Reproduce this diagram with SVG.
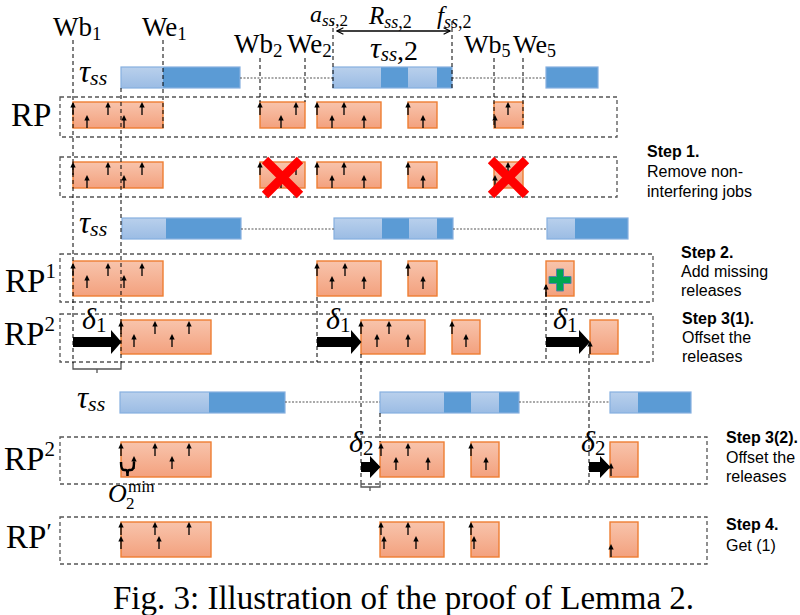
<svg xmlns="http://www.w3.org/2000/svg" width="800" height="615" viewBox="0 0 800 615">
<style>
.frame{fill:none;stroke:#555;stroke-width:1.3;stroke-dasharray:4 3}
.vd{fill:none;stroke:#000;stroke-width:1;stroke-dasharray:4 3}
.dot{stroke:#555;stroke-width:1.2;stroke-dasharray:2 1.5}
.job{fill:url(#og);stroke:#EE7E33;stroke-width:1.4}
.lt{fill:url(#bg)}
.dk{fill:#5B9BD5}
.bo{fill:none;stroke:#86B0E0;stroke-width:1.2}
.rm{font-family:"Liberation Serif","Times New Roman",serif;fill:#000}
.it{font-style:italic}
.step{font-family:"Liberation Sans",Arial,sans-serif;font-size:16px;fill:#000}
.b{font-weight:bold}
.x{stroke:#FF0000;stroke-width:9;stroke-linecap:butt}
.big{fill:#000}
.brk{fill:none;stroke:#555;stroke-width:1.3}
</style>
<defs>
<linearGradient id="og" x1="0" y1="0" x2="0" y2="1"><stop offset="0" stop-color="#F8C4AC"/><stop offset="1" stop-color="#F3A17E"/></linearGradient>
<linearGradient id="bg" x1="0" y1="0" x2="0" y2="1"><stop offset="0" stop-color="#B9D0EC"/><stop offset="1" stop-color="#9BBCE4"/></linearGradient>
<g id="ua"><path d="M0,0V-8.5" stroke="#000" stroke-width="1.3"/><path d="M-2.7,-7.5L0,-13L2.7,-7.5Z" fill="#000"/></g>
<marker id="oa" viewBox="0 0 10 10" refX="9" refY="5" markerWidth="8" markerHeight="8" orient="auto-start-reverse" markerUnits="userSpaceOnUse"><path d="M1,1L9,5L1,9" fill="none" stroke="#000" stroke-width="1.5"/></marker>
</defs>

<!-- frames -->
<g id="frames">
<rect class="frame" x="60" y="97" width="557" height="40"/>
<rect class="frame" x="60" y="157" width="557" height="40"/>
<rect class="frame" x="60" y="254" width="593" height="48"/>
<rect class="frame" x="60" y="314" width="593" height="48"/>
<rect class="frame" x="60" y="437" width="647" height="47"/>
<rect class="frame" x="60" y="517" width="647" height="47"/>
</g>

<!-- tau_ss bars -->
<g id="bars1">
<rect class="lt" x="121" y="67" width="42" height="21"/><rect class="dk" x="163" y="67" width="77" height="21"/><rect class="bo" x="121" y="67" width="119" height="21"/>
<rect class="lt" x="333" y="67" width="48" height="21"/><rect class="dk" x="381" y="67" width="27" height="21"/><rect class="lt" x="408" y="67" width="29" height="21"/><rect class="dk" x="437" y="67" width="15" height="21"/><rect class="bo" x="333" y="67" width="119" height="21"/>
<rect class="dk" x="546" y="67" width="52" height="21"/><rect class="bo" x="546" y="67" width="52" height="21"/>
<line class="dot" x1="240" y1="78" x2="333" y2="78"/><line class="dot" x1="452" y1="78" x2="546" y2="78"/>
</g>
<g id="bars3">
<rect class="lt" x="122" y="218" width="44" height="21"/><rect class="dk" x="166" y="218" width="75" height="21"/><rect class="bo" x="122" y="218" width="119" height="21"/>
<rect class="lt" x="334" y="218" width="48" height="21"/><rect class="dk" x="382" y="218" width="27" height="21"/><rect class="lt" x="409" y="218" width="28" height="21"/><rect class="dk" x="437" y="218" width="16" height="21"/><rect class="bo" x="334" y="218" width="119" height="21"/>
<rect class="lt" x="547" y="218" width="28" height="21"/><rect class="dk" x="575" y="218" width="53" height="21"/><rect class="bo" x="547" y="218" width="81" height="21"/>
<line class="dot" x1="241" y1="229" x2="334" y2="229"/><line class="dot" x1="453" y1="229" x2="547" y2="229"/>
</g>
<g id="bars6">
<rect class="lt" x="120" y="392" width="89" height="21"/><rect class="dk" x="209" y="392" width="76" height="21"/><rect class="bo" x="120" y="392" width="165" height="21"/>
<rect class="lt" x="380" y="392" width="64" height="21"/><rect class="dk" x="444" y="392" width="27" height="21"/><rect class="lt" x="471" y="392" width="28" height="21"/><rect class="dk" x="499" y="392" width="20" height="21"/><rect class="bo" x="380" y="392" width="139" height="21"/>
<rect class="lt" x="610" y="392" width="28" height="21"/><rect class="dk" x="638" y="392" width="53" height="21"/><rect class="bo" x="610" y="392" width="81" height="21"/>
<line class="dot" x1="285" y1="402" x2="380" y2="402"/><line class="dot" x1="519" y1="402" x2="610" y2="402"/>
</g>

<!-- row 1 jobs -->
<g id="row1">
<rect class="job" x="73" y="102" width="90" height="26"/><rect class="job" x="260" y="102" width="45" height="26"/><rect class="job" x="317" y="102" width="64" height="26"/><rect class="job" x="408" y="102" width="29" height="26"/><rect class="job" x="494" y="102" width="29" height="26"/>
<use href="#ua" x="73" y="115"/><use href="#ua" x="87" y="128"/><use href="#ua" x="108" y="115"/><use href="#ua" x="124" y="128"/><use href="#ua" x="142" y="115"/>
<use href="#ua" x="260" y="115"/><use href="#ua" x="281" y="128"/><use href="#ua" x="296" y="115"/>
<use href="#ua" x="317" y="115"/><use href="#ua" x="332" y="128"/><use href="#ua" x="344" y="115"/><use href="#ua" x="364" y="128"/>
<use href="#ua" x="408" y="115"/><use href="#ua" x="423" y="128"/>
<use href="#ua" x="495" y="128"/><use href="#ua" x="508" y="115"/>
</g>
<!-- row 2 jobs -->
<g id="row2">
<rect class="job" x="73" y="162" width="90" height="26"/><rect class="job" x="260" y="162" width="45" height="26"/><rect class="job" x="317" y="162" width="64" height="26"/><rect class="job" x="408" y="162" width="29" height="26"/><rect class="job" x="494" y="162" width="29" height="26"/>
<use href="#ua" x="73" y="175"/><use href="#ua" x="87" y="188"/><use href="#ua" x="108" y="175"/><use href="#ua" x="124" y="188"/><use href="#ua" x="142" y="175"/>
<use href="#ua" x="260" y="175"/><use href="#ua" x="281" y="188"/><use href="#ua" x="296" y="175"/>
<use href="#ua" x="317" y="175"/><use href="#ua" x="332" y="188"/><use href="#ua" x="344" y="175"/><use href="#ua" x="364" y="188"/>
<use href="#ua" x="408" y="175"/><use href="#ua" x="423" y="188"/>
<use href="#ua" x="495" y="188"/><use href="#ua" x="508" y="175"/>
<path class="x" d="M265,160L300,195M300,160L265,195"/>
<path class="x" d="M491,160L526,195M526,160L491,195"/>
</g>
<!-- row 4 jobs -->
<g id="row4">
<rect class="job" x="73" y="261" width="90" height="35"/><rect class="job" x="317" y="261" width="64" height="35"/><rect class="job" x="408" y="261" width="29" height="35"/><rect class="job" x="546" y="261" width="28" height="35"/>
<use href="#ua" x="73" y="276"/><use href="#ua" x="87" y="288"/><use href="#ua" x="108" y="276"/><use href="#ua" x="124" y="288"/><use href="#ua" x="142" y="276"/>
<use href="#ua" x="317" y="276"/><use href="#ua" x="332" y="289"/><use href="#ua" x="345" y="276"/><use href="#ua" x="364" y="289"/>
<use href="#ua" x="408" y="276"/><use href="#ua" x="423" y="289"/>
<use href="#ua" x="546" y="297"/>
<path d="M556.5,269H563.5V276.5H571V283.5H563.5V291H556.5V283.5H549V276.5H556.5Z" fill="#00A651" stroke="#5A7FA8" stroke-width="1"/>
</g>
<!-- row 5 jobs -->
<g id="row5">
<rect class="job" x="121" y="320" width="90" height="34"/><rect class="job" x="361" y="320" width="64" height="34"/><rect class="job" x="452" y="320" width="28" height="34"/><rect class="job" x="590" y="320" width="28" height="34"/>
<use href="#ua" x="121" y="334"/><use href="#ua" x="134" y="347"/><use href="#ua" x="155" y="334"/><use href="#ua" x="172" y="347"/><use href="#ua" x="189" y="334"/>
<use href="#ua" x="361" y="334"/><use href="#ua" x="377" y="347"/><use href="#ua" x="389" y="334"/><use href="#ua" x="408" y="347"/>
<use href="#ua" x="452" y="334"/><use href="#ua" x="466" y="347"/>
<use href="#ua" x="590" y="354"/>
</g>
<!-- row 7 jobs -->
<g id="row7">
<rect class="job" x="121" y="442" width="90" height="35"/><rect class="job" x="380" y="442" width="64" height="35"/><rect class="job" x="471" y="442" width="28" height="35"/><rect class="job" x="610" y="442" width="28" height="35"/>
<use href="#ua" x="121" y="456"/><use href="#ua" x="134" y="469"/><use href="#ua" x="155" y="456"/><use href="#ua" x="172" y="469"/><use href="#ua" x="189" y="456"/>
<use href="#ua" x="381" y="456"/><use href="#ua" x="396" y="470"/><use href="#ua" x="408" y="456"/><use href="#ua" x="428" y="470"/>
<use href="#ua" x="471" y="456"/><use href="#ua" x="486" y="470"/>
<use href="#ua" x="611" y="476"/>
</g>
<!-- row 8 jobs -->
<g id="row8">
<rect class="job" x="121" y="522" width="90" height="35"/><rect class="job" x="380" y="522" width="64" height="35"/><rect class="job" x="471" y="522" width="28" height="35"/><rect class="job" x="610" y="522" width="28" height="35"/>
<use href="#ua" x="121" y="535"/><use href="#ua" x="121" y="549"/><use href="#ua" x="155" y="535"/><use href="#ua" x="159" y="549"/><use href="#ua" x="189" y="535"/>
<use href="#ua" x="381" y="535"/><use href="#ua" x="384" y="549"/><use href="#ua" x="408" y="535"/><use href="#ua" x="416" y="549"/>
<use href="#ua" x="471" y="535"/><use href="#ua" x="474" y="549"/>
<use href="#ua" x="611" y="557"/>
</g>

<!-- connectors: dashed guides, shift arrows, brackets -->
<g id="connectors">
<line class="vd" x1="73" y1="40" x2="73" y2="364"/>
<line class="vd" x1="163" y1="40" x2="163" y2="128"/>
<line class="vd" x1="121" y1="88" x2="121" y2="364"/>
<line class="vd" x1="260" y1="58" x2="260" y2="102"/>
<line class="vd" x1="305" y1="58" x2="305" y2="102"/>
<line class="vd" x1="333" y1="21" x2="333" y2="88"/>
<line class="vd" x1="452" y1="21" x2="452" y2="88"/>
<line class="vd" x1="494" y1="58" x2="494" y2="128"/>
<line class="vd" x1="523" y1="58" x2="523" y2="128"/>
<line class="vd" x1="317" y1="297" x2="317" y2="362"/>
<line class="vd" x1="546" y1="285" x2="546" y2="362"/>
<line class="vd" x1="361" y1="354" x2="361" y2="481"/>
<line class="vd" x1="380" y1="413" x2="380" y2="442"/>
<line class="vd" x1="589" y1="354" x2="589" y2="483"/>
<line x1="337" y1="31" x2="450" y2="31" stroke="#000" stroke-width="1.5" marker-start="url(#oa)" marker-end="url(#oa)"/>
<path class="big" d="M73,337H111V330L121.5,342L111,354V347H73Z"/>
<path class="big" d="M317,337H351V330L361.5,342L351,354V347H317Z"/>
<path class="big" d="M546,337H579V330L590,342L579,354V347H546Z"/>
<path class="big" d="M361,462H370V456L380.5,467L370,478V472H361Z"/>
<path class="big" d="M589,462H600V456L610.5,467L600,478V472H589Z"/>
<path class="brk" d="M73,364V369H121V364M97,369V373"/>
<path class="brk" d="M361,481V487H380V481M370,487V491"/>
<path d="M121,462Q121,470 124,470H126Q127.5,470 127.5,476Q127.5,470 129,470H131Q134,470 134,462" fill="none" stroke="#000" stroke-width="2.5"/>
</g>

<!-- labels -->
<g id="labels" class="rm">
<text x="53" y="36" font-size="27">Wb<tspan font-size="19" dy="4">1</tspan></text>
<text x="142" y="36" font-size="27">We<tspan font-size="19" dy="4">1</tspan></text>
<text x="234" y="53" font-size="27">Wb<tspan font-size="19" dy="4">2</tspan></text>
<text x="287" y="53" font-size="27">We<tspan font-size="19" dy="4">2</tspan></text>
<text x="464" y="53" font-size="26">Wb<tspan font-size="18" dy="4">5</tspan></text>
<text x="513" y="53" font-size="26">We<tspan font-size="18" dy="4">5</tspan></text>
<text x="310" y="22" font-size="24"><tspan class="it">a</tspan><tspan font-size="17" dy="4" class="it">ss</tspan><tspan font-size="17">,2</tspan></text>
<text x="369" y="24" font-size="25"><tspan class="it">R</tspan><tspan font-size="18" dy="4" class="it">ss</tspan><tspan font-size="18">,2</tspan></text>
<text x="437" y="24" font-size="25"><tspan class="it">f</tspan><tspan font-size="18" dy="4" class="it">ss</tspan><tspan font-size="18">,2</tspan></text>
<text x="370" y="58" font-size="30"><tspan class="it">τ</tspan><tspan font-size="21" dy="3" class="it">ss</tspan><tspan font-size="28" dy="-1">,2</tspan></text>
<text x="79" y="82" font-size="31"><tspan class="it">τ</tspan><tspan font-size="22" dy="3" class="it">ss</tspan></text>
<text x="79" y="233" font-size="31"><tspan class="it">τ</tspan><tspan font-size="22" dy="3" class="it">ss</tspan></text>
<text x="77" y="408" font-size="31"><tspan class="it">τ</tspan><tspan font-size="22" dy="3" class="it">ss</tspan></text>
<text x="11" y="126" font-size="33">RP</text>
<text x="5" y="292" font-size="33">RP<tspan font-size="21" dy="-14">1</tspan></text>
<text x="4" y="345" font-size="33">RP<tspan font-size="21" dy="-14">2</tspan></text>
<text x="4" y="470" font-size="33">RP<tspan font-size="21" dy="-14">2</tspan></text>
<text x="6" y="548" font-size="33">RP<tspan font-size="24" dy="-9">′</tspan></text>
<text x="82" y="329" font-size="30"><tspan class="it">δ</tspan><tspan font-size="21" dy="3">1</tspan></text>
<text x="326" y="329" font-size="30"><tspan class="it">δ</tspan><tspan font-size="21" dy="3">1</tspan></text>
<text x="553" y="329" font-size="30"><tspan class="it">δ</tspan><tspan font-size="21" dy="3">1</tspan></text>
<text x="349" y="452" font-size="30"><tspan class="it">δ</tspan><tspan font-size="21" dy="3">2</tspan></text>
<text x="581" y="452" font-size="30"><tspan class="it">δ</tspan><tspan font-size="21" dy="3">2</tspan></text>
<text x="108" y="502" font-size="26" class="it">O</text>
<text x="126" y="509" font-size="17">2</text>
<text x="128" y="492" font-size="17">min</text>
</g>

<g id="steps" class="step">
<text x="647" y="157"><tspan class="b">Step 1.</tspan><tspan x="647" dy="20">Remove non-</tspan><tspan x="647" dy="20">interfering jobs</tspan></text>
<text x="681" y="258"><tspan class="b">Step 2.</tspan><tspan x="681" dy="19">Add missing</tspan><tspan x="681" dy="19">releases</tspan></text>
<text x="682" y="324"><tspan class="b">Step 3(1).</tspan><tspan x="682" dy="19">Offset the</tspan><tspan x="682" dy="19">releases</tspan></text>
<text x="726" y="443"><tspan class="b">Step 3(2).</tspan><tspan x="726" dy="20">Offset the</tspan><tspan x="726" dy="19">releases</tspan></text>
<text x="726" y="530"><tspan class="b">Step 4.</tspan><tspan x="726" dy="21">Get (1)</tspan></text>
</g>

<text class="rm" x="113" y="609" font-size="33">Fig. 3: Illustration of the proof of Lemma 2.</text>
</svg>
